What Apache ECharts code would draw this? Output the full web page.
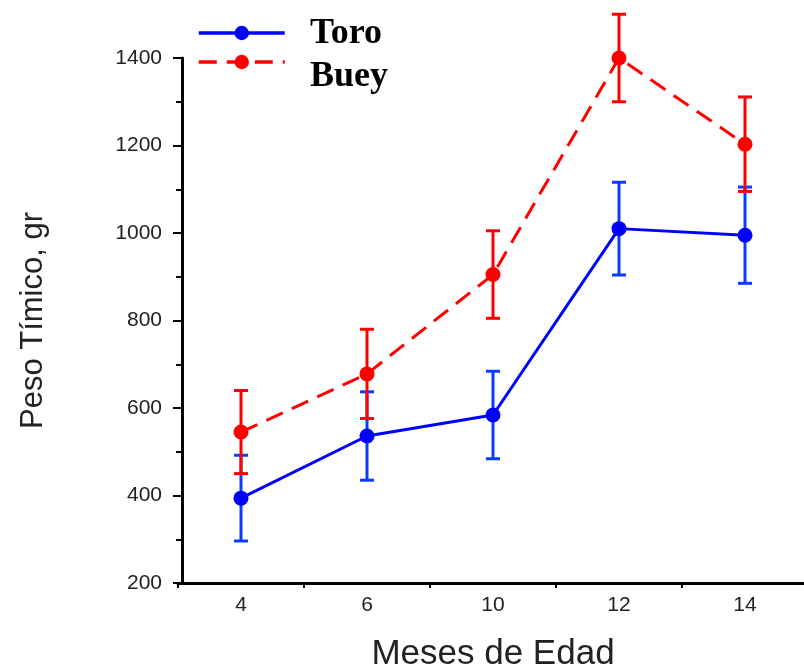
<!DOCTYPE html>
<html>
<head>
<meta charset="utf-8">
<script src="https://cdn.jsdelivr.net/npm/echarts@6/dist/echarts.min.js"></script>
<style>html,body{margin:0;padding:0;background:#fff}#c{width:804px;height:666px}</style>
</head>
<body>
<div id="c"></div>
<script>
var categories = ['4', '6', '10', '12', '14'];
var seriesNames = ['Toro', 'Buey'];
var toroMean = [394, 536, 584, 1010, 995];
var toroErr = [98, 101, 100, 106, 110];
var bueyMean = [545, 678, 905, 1400, 1203];
var bueyErr = [95, 102, 100, 100, 108];
var yTicks = { min: 200, max: 1400, interval: 200 };

function errData(mean, err) {
  return mean.map(function (m, i) { return [i, m - err[i], m + err[i]]; });
}
function errSeries(name, mean, err, color) {
  return {
    type: 'custom', name: name + ' err', silent: true, clip: false, z: 1,
    data: errData(mean, err),
    renderItem: function (params, api) {
      var lo = api.coord([api.value(0), api.value(1)]);
      var hi = api.coord([api.value(0), api.value(2)]);
      var w = 7;
      var st = { stroke: color, lineWidth: 3 };
      return { type: 'group', children: [
        { type: 'line', shape: { x1: lo[0], y1: lo[1], x2: hi[0], y2: hi[1] }, style: st },
        { type: 'line', shape: { x1: lo[0] - w, y1: lo[1], x2: lo[0] + w, y2: lo[1] }, style: st },
        { type: 'line', shape: { x1: hi[0] - w, y1: hi[1], x2: hi[0] + w, y2: hi[1] }, style: st }
      ]};
    }
  };
}
var legendFont = 'bold 36px "Liberation Serif"';
var chart = echarts.init(document.getElementById('c'));
chart.setOption({
  animation: false,
  grid: { left: 178, top: 58, bottom: 83, width: 630, outerBoundsMode: 'none', containLabel: false },
  legend: [{
    left: 192, top: 19, itemWidth: 86, itemHeight: 18, itemGap: 0, data: [seriesNames[0]],
    lineStyle: { width: 3.5 }, formatter: function () { return ''; },
    textStyle: { fontSize: 10 }
  }, {
    left: 192, top: 48, itemWidth: 86, itemHeight: 18, itemGap: 0, data: [seriesNames[1]],
    lineStyle: { width: 3.5 }, formatter: function () { return ''; },
    textStyle: { fontSize: 10 }
  }],
  graphic: [
    { type: 'text', left: 310, top: 16, style: { text: seriesNames[0], font: legendFont, fill: '#000' } },
    { type: 'text', left: 310, top: 59, style: { text: seriesNames[1], font: legendFont, fill: '#000' } }
  ],
  xAxis: [{
    type: 'category', data: categories, boundaryGap: true,
    axisLine: { lineStyle: { color: '#000', width: 3 } },
    axisTick: { alignWithLabel: true, length: 5, lineStyle: { color: '#000', width: 2 } },
    axisLabel: { color: '#222', fontFamily: 'Liberation Sans', fontSize: 21, margin: 12 },
    name: 'Meses de Edad', nameLocation: 'middle', nameGap: 54,
    nameTextStyle: { color: '#222', fontFamily: 'Liberation Sans', fontSize: 35 }
  }, {
    type: 'category', data: categories, boundaryGap: true, position: 'bottom',
    axisLine: { show: false },
    axisTick: { show: true, length: 5, lineStyle: { color: '#000', width: 2 } },
    axisLabel: { show: false }
  }],
  yAxis: {
    type: 'value', min: yTicks.min, max: yTicks.max, interval: yTicks.interval, offset: -4,
    splitLine: { show: false },
    axisLine: { show: true, lineStyle: { color: '#000', width: 3 } },
    axisTick: { show: true, length: 9, lineStyle: { color: '#000', width: 2 } },
    minorTick: { show: true, splitNumber: 2, length: 6, lineStyle: { color: '#000', width: 2 } },
    axisLabel: { color: '#222', fontFamily: 'Liberation Sans', fontSize: 21, margin: 20,
      formatter: function (v) { return String(v); } },
    name: 'Peso Tímico, gr', nameLocation: 'middle', nameGap: 133, nameRotate: 90,
    nameTextStyle: { color: '#222', fontFamily: 'Liberation Sans', fontSize: 31 }
  },
  series: [
    errSeries(seriesNames[0], toroMean, toroErr, '#0a3cff'),
    errSeries(seriesNames[1], bueyMean, bueyErr, '#ff0000'),
    {
      name: seriesNames[0], type: 'line', data: toroMean, symbol: 'circle', symbolSize: 15, z: 3,
      lineStyle: { color: '#0000ff', width: 3 }, itemStyle: { color: '#0000ff' }
    },
    {
      name: seriesNames[1], type: 'line', data: bueyMean, symbol: 'circle', symbolSize: 15, z: 3,
      lineStyle: { color: '#ff0000', width: 3, type: [18, 10] }, itemStyle: { color: '#ff0000' }
    }
  ]
});
</script>
</body>
</html>
